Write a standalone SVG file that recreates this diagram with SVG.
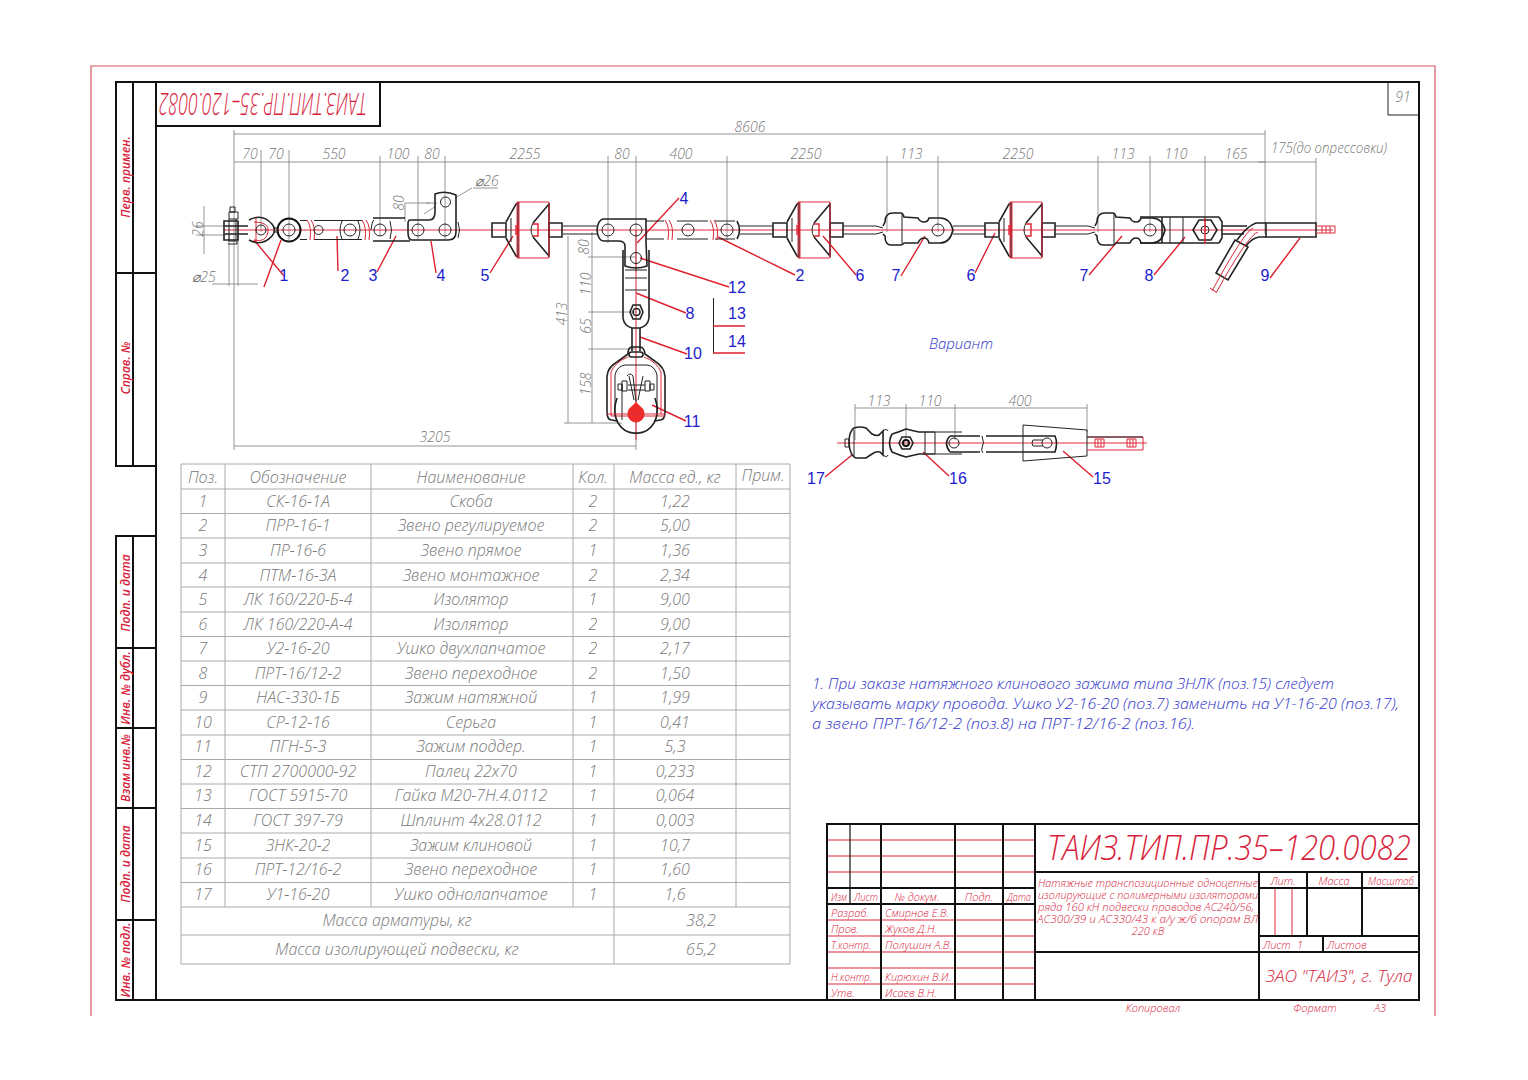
<svg xmlns="http://www.w3.org/2000/svg" xmlns:xlink="http://www.w3.org/1999/xlink" width="1528" height="1080" viewBox="0 0 1528 1080">
<style>
text{font-family:"Open Sans","Liberation Sans",sans-serif;font-style:italic;font-weight:300}
.f{fill:none;stroke:#111;stroke-width:2}
.k{fill:none;stroke:#222;stroke-width:1}
.kb{fill:none;stroke:#222;stroke-width:1.6}
.g{fill:none;stroke:#888;stroke-width:.9}
.tb{fill:none;stroke:#aaa;stroke-width:1}
.r{fill:none;stroke:#dc2a3a;stroke-width:1}
.rb{fill:none;stroke:#e0202f;stroke-width:1.4}
.d{fill:#777;font-size:14px;text-anchor:middle}
.t{fill:#777;font-size:16px;text-anchor:middle}
.n{fill:#1c1ccc;font-family:"Liberation Sans",sans-serif;font-style:normal;font-weight:400;font-size:16px;text-anchor:middle}
.s{fill:#d81e3c;font-size:11px;font-weight:500}
.l{fill:#d81e3c;font-size:12px;font-weight:600;text-anchor:middle}
.sm{text-anchor:middle}
.v{fill:#2f35c8;font-size:15px;font-weight:300}
</style>
<defs>
<g id="ins">
<path class="kb" d="M-25,-7H-11V7H-25ZM32,-7H45V7H32Z"/>
<path class="kb" d="M-11,-8L-1,-26L1,-27V27L-1,26L-11,8M16,-7L32,-26M16,7L32,26M32,-27V27"/>
<path class="k" d="M-6,-12V12M16,-7Q12,0 16,7"/>
<path class="r" d="M0,-28H32V28H0ZM2,-28V28"/>
<path class="rb" stroke-width="2" d="M1,-7V7M-1,-5V5M16,-6H21V6H16"/>
</g>
<g id="eye7">
<path class="kb" d="M-55,-4L-53,-8Q-53,-17 -45,-17H-37Q-35,-17 -34,-13L-20,-12Q-18,-8 -14,-8Q-10,-8 -9,-12H2Q12,-12 15,0Q12,13 2,13H-9Q-10,8 -14,8Q-18,8 -20,13H-34Q-35,15 -37,15H-47Q-53,15 -53,6L-55,4"/>
<path class="k" d="M-36,-16V14"/>
<circle class="k" cx="0" cy="0" r="6"/>
</g>
<g id="brk"><path class="r" d="M0,-10Q5,-3 3,10M4,-10Q9,-3 7,10"/></g>
</defs>

<g id="frame">
<path fill="none" stroke="#d8555f" stroke-width="1.2" d="M91,1016V66H1435V1016"/>
<path class="f" d="M156,82H1419V1000H116V536H156M116,82H156V466H116ZM133,82V466M116,273H156M133,536V1000M116,648H156M116,728H156M116,808H156M116,920H156M156,466V536M156,536V1000"/>
<path class="f" d="M156,126H380V82"/>
<path class="k" d="M1388,82V115H1419"/>
<text class="d" x="1403" y="102" fill="#777">91</text>
<text transform="rotate(180 263 104)" x="263" y="115" text-anchor="middle" style="font-size:31px;fill:#d81e3c" textLength="208" lengthAdjust="spacingAndGlyphs">ТАИЗ.ТИП.ПР.35–120.0082</text>
<g>
<text class="l" transform="rotate(-90 130 177)" x="130" y="177">Перв. примен.</text>
<text class="l" transform="rotate(-90 130 368)" x="130" y="368">Справ. №</text>
<text class="l" transform="rotate(-90 130 593)" x="130" y="593">Подп. и дата</text>
<text class="l" transform="rotate(-90 130 688)" x="130" y="688">Инв. № дубл.</text>
<text class="l" transform="rotate(-90 130 768)" x="130" y="768">Взам инв.№</text>
<text class="l" transform="rotate(-90 130 864)" x="130" y="864">Подп. и дата</text>
<text class="l" transform="rotate(-90 130 960)" x="130" y="960">Инв. № подл.</text>
</g>
</g>

<g id="connectors">
<path class="g" d="M234,130V450M234,134H1265M1265,130V234M234,162H1265M1258,162H1316M261,150V232M289,150V240M380,156V236M418,156V240M445,156V240M608,156V243M636,156V272M727,156V240M887,156V232M938,156V232M1098,156V232M1150,156V232M1205,156V232M1316,158V225"/>
<path class="g" d="M568,236V423M592,232V423M588,257H636M588,312H636M588,349H636M564,423H622M234,446H636M636,420V450"/>
<path class="g" d="M204,206V254M196,226H226M196,235H226M229,235V286M238,235V286M212,284H258M426,203H437M405,203V222M405,203H430M424,214L436,206M455,198L472,188M473,188H498"/>
<path class="g" d="M855,408H1087M855,404V440M906,404V440M955,404V440M1087,404V432"/>
<g class="rb">
<path d="M284,276L254,240M264,287L281,240M338,271L337,236M377,272L396,236M436,273L431,241M490,273L513,236M679,198L637,243M795,275L718,237M856,275L823,236M901,276L925,236M975,273L995,233M1089,275L1122,236M1154,275L1185,237M1270,278L1300,238M729,287L640,258M686,313L636,293M687,354L640,337M686,421L652,405M825,477L852,455M949,476L923,452M1093,477L1063,451"/>
</g>
<path class="r" d="M224,230H1333M636,230V440M837,443H1147"/>
<path stroke="#222" fill="none" d="M713.500,298V353"/>
<path class="rb" d="M713,326H745M713,353H745"/>
</g>

<g id="dim-labels">
<text class="d" x="250" y="159">70</text><text class="d" x="276" y="159">70</text><text class="d" x="334" y="159">550</text><text class="d" x="398" y="159">100</text><text class="d" x="432" y="159">80</text><text class="d" x="525" y="159">2255</text><text class="d" x="622" y="159">80</text><text class="d" x="681" y="159">400</text><text class="d" x="806" y="159">2250</text><text class="d" x="911" y="159">113</text><text class="d" x="1018" y="159">2250</text><text class="d" x="1123" y="159">113</text><text class="d" x="1176" y="159">110</text><text class="d" x="1236" y="159">165</text>
<text class="d" x="750" y="132">8606</text>
<text class="d" x="1329" y="153" textLength="116" lengthAdjust="spacingAndGlyphs">175(до опрессовки)</text>
<text class="d" x="487" y="186">⌀26</text><text class="d" x="204" y="282">⌀25</text>
<text class="d" x="435" y="442">3205</text>
<text class="d" transform="rotate(-90 203 229)" x="203" y="229">26</text>
<text class="d" transform="rotate(-90 404 203)" x="404" y="203">80</text>
<text class="d" transform="rotate(-90 589 247)" x="589" y="247">80</text>
<text class="d" transform="rotate(-90 591 284)" x="591" y="284">110</text>
<text class="d" transform="rotate(-90 591 326)" x="591" y="326">65</text>
<text class="d" transform="rotate(-90 591 384)" x="591" y="384">158</text>
<text class="d" transform="rotate(-90 567 314)" x="567" y="314">413</text>
<text class="d" x="879" y="406">113</text><text class="d" x="930" y="406">110</text><text class="d" x="1020" y="406">400</text>
</g>

<g id="part-1">
<path class="kb" d="M224,221H238V240H224ZM225,226H248M225,234H248"/>
<path class="k" d="M229,219V240M236,219V240M230,207H235V212H230ZM229,212H238V219H229ZM228,241H237V244H228"/>
<path class="kb" d="M249,220Q262,213 272,224Q277,230 272,236Q262,247 249,240"/>
<path class="r" d="M254,222Q270,222 268,232Q266,243 254,240M256,218V242"/>
<circle class="k" cx="261" cy="230" r="5"/>
<circle cx="289" cy="230" r="11.500" fill="none" stroke="#111" stroke-width="2"/><circle class="k" cx="289" cy="230" r="6"/>
<path class="k" d="M273,228H278M273,232H278"/>
</g>
<g id="part-2a">
<path class="k" d="M300,220.500H307M300,239.500H307M314,220.500H362M314,239.500H362"/>
<use xlink:href="#brk" href="#brk" x="307" y="230"/><use xlink:href="#brk" href="#brk" x="362" y="230"/>
<circle class="k" cx="318.500" cy="230" r="4.500"/><circle class="k" cx="350" cy="230" r="6"/>
<path class="k" d="M342,221Q338,230 342,239M358,221Q362,230 358,239"/>
</g>
<g id="part-3">
<path class="kb" d="M373,218H405M373,241H410"/>
<path class="k" d="M371,230Q372,221 374,220M390,221Q393,230 390,239"/>
<circle class="k" cx="380" cy="230" r="6"/>
</g>
<g id="part-4a">
<path class="kb" d="M410,220H429Q435,220 435,212V194Q445,190 456,195V232Q456,240 448,240H412Q408,240 408,232V224Q408,220 410,220Z"/>
<circle class="k" cx="418" cy="230" r="6"/><circle class="k" cx="445" cy="230" r="6"/><circle class="k" cx="445.500" cy="202" r="5"/>
<path class="k" d="M458,222Q461,230 458,238"/>
</g>
<g id="part-5"><use xlink:href="#ins" href="#ins" x="517" y="230"/><path class="k" d="M563,226H597M563,234H597"/></g>
<g id="part-4b">
<path class="kb" d="M603,219H646V242L647,266Q636,270 625,266V246Q625,241 618,241H604Q598,241 597,230Q598,220 603,219Z"/>
<circle class="k" cx="608" cy="230" r="6"/><circle class="k" cx="636" cy="230" r="6"/>
<circle class="k" cx="636" cy="258" r="5.500"/>
</g>
<g id="part-2b">
<path class="k" d="M646,221H664M646,239H664M677,221H708M677,239H708M715,221H735M715,239H735"/>
<use xlink:href="#brk" href="#brk" x="665" y="230"/><use xlink:href="#brk" href="#brk" x="710" y="230"/>
<circle class="k" cx="688" cy="230" r="6"/><circle class="k" cx="727" cy="230" r="6"/>
<path class="kb" d="M737,221Q742,230 737,239"/><path class="k" d="M740,226H773M740,234H773"/>
</g>
<g id="part-6a"><use xlink:href="#ins" href="#ins" x="798" y="230"/><path class="k" d="M843,226H876L883,228M843,234H876L883,232"/></g>
<g id="part-7a"><use xlink:href="#eye7" href="#eye7" x="938" y="230"/><path class="k" d="M953,226H985M953,234H985"/></g>
<g id="part-6b"><use xlink:href="#ins" href="#ins" x="1010" y="230"/><path class="k" d="M1055,226H1088L1095,228M1055,234H1088L1095,232"/></g>
<g id="part-7b"><use xlink:href="#eye7" href="#eye7" x="1150" y="230"/></g>
<g id="part-8a">
<path class="kb" d="M1140,217H1219M1140,243H1219M1219,217L1222,222V238L1219,243M1162,217V243"/>
<path class="k" d="M1170,217V243M1183,217V243"/>
<path class="kb" d="M1193,230L1199,220H1211L1217,230L1211,240H1199Z"/><circle class="k" cx="1205" cy="230" r="4"/>
<path class="rb" d="M1205,218V244"/>
</g>
<g id="part-9">
<path class="kb" d="M1266,223H1316V237H1266ZM1222,226H1247M1222,234H1244"/>
<path class="kb" d="M1266,223H1256Q1247,226 1237,240M1266,237H1259Q1252,238 1246,246"/>
<path class="kb" d="M1235,240L1248,247L1228,280L1216,273Z"/>
<path class="r" d="M1316,226H1335V233H1316M1322,226V233M1326,226V233M1330,226V233M1253,228Q1244,232 1212,291M1258,232Q1248,235 1216,293M1210,288L1216,292"/>
</g>
<g id="part-8b">
<path class="kb" d="M623,250V318Q624,326 632,328H640Q648,326 649,318V250"/>
<path class="k" d="M625,270H647M625,278H647M625,290H647"/>
<path class="kb" d="M630,312L633,305H640L643,312L640,319H633Z"/><circle class="kb" cx="636.500" cy="312" r="3.500"/>
</g>
<g id="part-10"><path class="kb" d="M632,328V351M640,328V351"/><rect x="629" y="352" width="14" height="5" rx="2.500" class="kb"/></g>
<g id="part-11">
<path class="kb" d="M628,354Q628,347 632,347H640Q644,347 645,354L656,362Q664,367 665,376V412Q665,420 660,420L655,421M628,354L617,362Q608,367 607,376V412Q607,420 612,420L617,421"/>
<path class="r" d="M628,357Q615,362 611,372V416H665M644,357Q657,362 661,372V414"/>
<path class="k" d="M615,416V375Q617,366 625,365H647Q655,366 657,375V416"/>
<path class="kb" d="M617,398Q612,412 618,423Q625,434 636,433Q647,434 654,423Q660,412 655,398"/>
<path class="k" d="M622,384V420M629,376L634,400M643,376L638,400M627,376Q630,372 633,376L636,402M622,381H627V391H622ZM618,384H622V390H618ZM645,381H650V391H645ZM650,384H654V390H650ZM628,385H645M628,390H645"/>
<circle cx="636" cy="414" r="8.500" fill="#ee2a2a"/>
<path d="M628,410L636,402L644,410Z" fill="#ee2a2a"/>
<path class="r" d="M607,414H665"/>
</g>
<g id="part-variant">
<path class="kb" d="M849,443Q849,431 854,428Q860,426 866,428L872,434Q878,437 880,434L883,431V455L880,452Q876,451 872,454L866,458H856Q850,456 849,443Z"/>
<path class="k" d="M845,439H849V447H845ZM854,430V456"/>
<path class="k" d="M883,431Q887,428 888,431M883,455Q887,458 888,455"/>
<path class="kb" d="M892,434Q899,432 906,429Q914,431 919,432H935M892,452Q899,455 906,457Q914,455 919,454H935M892,434Q887,443 892,452"/>
<path class="kb" d="M899,443L902,437H910L913,443L910,449H902Z"/><circle cx="906" cy="443" r="3" fill="none" stroke="#111" stroke-width="2"/>
<path class="k" d="M925,432V454M935,432V454M935,432H962M935,454H962"/>
<path class="kb" d="M950,436H980M950,452H980M950,436Q943,443 950,452M1002,436H1055Q1058,443 1055,452H986M986,436H1002"/>
<circle class="k" cx="954" cy="443" r="5"/>
<path class="k" d="M982,436Q985,443 982,448Q981,451 983,453"/>
<circle class="k" cx="1047" cy="443" r="5"/><path class="k" d="M1043,440H1033Q1031,443 1033,446H1043"/>
<path class="k" d="M1023,425L1087,430V456L1023,461Z"/>
<path class="r" d="M1087,437H1143V450H1087M1095,439H1104V447H1095ZM1127,439H1136V447H1127ZM1098,439V447M1101,439V447M1130,439V447M1133,439V447"/>
<path class="k" d="M1087,437H1143"/>
</g>

<g id="numbers">
<text class="n" x="284" y="281">1</text><text class="n" x="345" y="281">2</text><text class="n" x="373" y="281">3</text><text class="n" x="441" y="281">4</text><text class="n" x="485" y="281">5</text><text class="n" x="684" y="204">4</text><text class="n" x="800" y="281">2</text><text class="n" x="860" y="281">6</text><text class="n" x="896" y="281">7</text><text class="n" x="971" y="281">6</text><text class="n" x="1084" y="281">7</text><text class="n" x="1149" y="281">8</text><text class="n" x="1265" y="281">9</text><text class="n" x="737" y="293">12</text><text class="n" x="690" y="319">8</text><text class="n" x="737" y="319">13</text><text class="n" x="737" y="347">14</text><text class="n" x="693" y="359">10</text><text class="n" x="692" y="427">11</text><text class="n" x="816" y="484">17</text><text class="n" x="958" y="484">16</text><text class="n" x="1102" y="484">15</text>
<text class="v" x="961" y="349" text-anchor="middle">Вариант</text>
</g>

<g id="note">
<text class="v" x="812" y="689" textLength="522" lengthAdjust="spacingAndGlyphs">1. При заказе натяжного клинового зажима типа ЗНЛК (поз.15) следует</text>
<text class="v" x="812" y="709" textLength="587" lengthAdjust="spacingAndGlyphs">указывать марку провода. Ушко У2-16-20 (поз.7) заменить на У1-16-20 (поз.17),</text>
<text class="v" x="812" y="729" textLength="383" lengthAdjust="spacingAndGlyphs">а звено ПРТ-16/12-2 (поз.8) на ПРТ-12/16-2 (поз.16).</text>
</g>

<g id="table">
<path class="tb" d="M181,464H790V964H181ZM225,464V907M371,464V907M573,464V907M614,464V964M736,464V907"/>
<path class="tb" d="M181,489H790M181,513.500H790M181,538H790M181,563H790M181,587H790M181,612H790M181,636.500H790M181,661H790M181,685.500H790M181,710H790M181,735H790M181,759.500H790M181,784H790M181,808.500H790M181,833H790M181,858H790M181,882.500H790M181,907H790M181,935H790"/>
<g class="t">
<text x="203" y="483">Поз.</text><text x="298" y="483">Обозначение</text><text x="471" y="483">Наименование</text><text x="593" y="483">Кол.</text><text x="675" y="483">Масса ед., кг</text><text x="763" y="481">Прим.</text>
<text x="203" y="507">1</text><text x="298" y="507">СК-16-1А</text><text x="471" y="507">Скоба</text><text x="593" y="507">2</text><text x="675" y="507">1,22</text>
<text x="203" y="531">2</text><text x="298" y="531">ПРР-16-1</text><text x="471" y="531">Звено регулируемое</text><text x="593" y="531">2</text><text x="675" y="531">5,00</text>
<text x="203" y="556">3</text><text x="298" y="556">ПР-16-6</text><text x="471" y="556">Звено прямое</text><text x="593" y="556">1</text><text x="675" y="556">1,36</text>
<text x="203" y="581">4</text><text x="298" y="581">ПТМ-16-3А</text><text x="471" y="581">Звено монтажное</text><text x="593" y="581">2</text><text x="675" y="581">2,34</text>
<text x="203" y="605">5</text><text x="298" y="605">ЛК 160/220-Б-4</text><text x="471" y="605">Изолятор</text><text x="593" y="605">1</text><text x="675" y="605">9,00</text>
<text x="203" y="630">6</text><text x="298" y="630">ЛК 160/220-А-4</text><text x="471" y="630">Изолятор</text><text x="593" y="630">2</text><text x="675" y="630">9,00</text>
<text x="203" y="654">7</text><text x="298" y="654">У2-16-20</text><text x="471" y="654">Ушко двухлапчатое</text><text x="593" y="654">2</text><text x="675" y="654">2,17</text>
<text x="203" y="679">8</text><text x="298" y="679">ПРТ-16/12-2</text><text x="471" y="679">Звено переходное</text><text x="593" y="679">2</text><text x="675" y="679">1,50</text>
<text x="203" y="703">9</text><text x="298" y="703">НАС-330-1Б</text><text x="471" y="703">Зажим натяжной</text><text x="593" y="703">1</text><text x="675" y="703">1,99</text>
<text x="203" y="728">10</text><text x="298" y="728">СР-12-16</text><text x="471" y="728">Серьга</text><text x="593" y="728">1</text><text x="675" y="728">0,41</text>
<text x="203" y="752">11</text><text x="298" y="752">ПГН-5-3</text><text x="471" y="752">Зажим поддер.</text><text x="593" y="752">1</text><text x="675" y="752">5,3</text>
<text x="203" y="777">12</text><text x="298" y="777">СТП 2700000-92</text><text x="471" y="777">Палец 22х70</text><text x="593" y="777">1</text><text x="675" y="777">0,233</text>
<text x="203" y="801">13</text><text x="298" y="801">ГОСТ 5915-70</text><text x="471" y="801">Гайка М20-7Н.4.0112</text><text x="593" y="801">1</text><text x="675" y="801">0,064</text>
<text x="203" y="826">14</text><text x="298" y="826">ГОСТ 397-79</text><text x="471" y="826">Шплинт 4х28.0112</text><text x="593" y="826">1</text><text x="675" y="826">0,003</text>
<text x="203" y="851">15</text><text x="298" y="851">ЗНК-20-2</text><text x="471" y="851">Зажим клиновой</text><text x="593" y="851">1</text><text x="675" y="851">10,7</text>
<text x="203" y="875">16</text><text x="298" y="875">ПРТ-12/16-2</text><text x="471" y="875">Звено переходное</text><text x="593" y="875">1</text><text x="675" y="875">1,60</text>
<text x="203" y="900">17</text><text x="298" y="900">У1-16-20</text><text x="471" y="900">Ушко однолапчатое</text><text x="593" y="900">1</text><text x="675" y="900">1,6</text>
<text x="397" y="926">Масса арматуры, кг</text><text x="701" y="926">38,2</text>
<text x="397" y="955">Масса изолирующей подвески, кг</text><text x="701" y="955">65,2</text>
</g>
</g>

<g id="title-block">
<path class="r" d="M827,840H1035M827,856H1035M827,872H1035M827,920H1035M827,936H1035M827,952H1035M827,968H1035M827,984H1035M1275,888V936M1292,888V936"/>
<path class="f" d="M827,1000V824H1419M827,888H1035M827,904H1035M881,824V1000M955,824V1000M1003,824V1000M1035,824V1000M1035,872H1419M1035,952H1419M1259,872V1000M1307,872V936M1362,872V936M1259,888H1419M1259,936H1419M1323,936V952"/>
<path fill="none" stroke="#111" stroke-width="1.200" d="M850,824V904"/>
<text x="1047" y="860" style="font-size:35px;fill:#d81e3c" textLength="364" lengthAdjust="spacingAndGlyphs">ТАИЗ.ТИП.ПР.35–120.0082</text>
<g class="s">
<text x="831" y="901" textLength="16" lengthAdjust="spacingAndGlyphs">Изм</text><text x="854" y="901" textLength="24" lengthAdjust="spacingAndGlyphs">Лист</text><text class="sm" x="917" y="901">№ докум.</text><text class="sm" x="979" y="901">Подп.</text><text class="sm" x="1019" y="901" textLength="24" lengthAdjust="spacingAndGlyphs">Дата</text>
<text x="831" y="917">Разраб.</text><text x="831" y="933">Пров.</text><text x="831" y="949" textLength="40" lengthAdjust="spacingAndGlyphs">Т.контр.</text><text x="831" y="981" textLength="41" lengthAdjust="spacingAndGlyphs">Н.контр.</text><text x="831" y="997">Утв.</text>
<text x="885" y="917" textLength="64" lengthAdjust="spacingAndGlyphs">Смирнов Е.В.</text><text x="885" y="933">Жуков Д.Н.</text><text x="885" y="949" textLength="67" lengthAdjust="spacingAndGlyphs">Полушин А.В.</text><text x="885" y="981" textLength="66" lengthAdjust="spacingAndGlyphs">Кирюхин В.И.</text><text x="885" y="997">Исаев В.Н.</text>
<text x="1038" y="887" textLength="220" lengthAdjust="spacingAndGlyphs">Натяжные транспозиционные одноцепные</text>
<text x="1038" y="899" textLength="220" lengthAdjust="spacingAndGlyphs">изолирующие с полимерными изоляторами</text>
<text x="1038" y="911" textLength="216" lengthAdjust="spacingAndGlyphs">ряда 160 кН подвески проводов АС240/56,</text>
<text x="1037" y="923" textLength="221" lengthAdjust="spacingAndGlyphs">АС300/39 и АС330/43 к а/у ж/б опорам ВЛ</text>
<text class="sm" x="1148" y="935">220 кВ</text>
<text class="sm" x="1283" y="885">Лит.</text><text class="sm" x="1334" y="885">Масса</text><text class="sm" x="1391" y="885" textLength="46" lengthAdjust="spacingAndGlyphs">Масштаб</text>
<text x="1263" y="949">Лист</text><text x="1297" y="949">1</text><text x="1327" y="949">Листов</text>
<text class="sm" x="1153" y="1012">Копировал</text><text class="sm" x="1315" y="1012">Формат</text><text class="sm" x="1380" y="1012">А3</text>
</g>
<text x="1339" y="982" text-anchor="middle" style="font-size:17px;fill:#d81e3c" textLength="147" lengthAdjust="spacingAndGlyphs">ЗАО "ТАИЗ", г. Тула</text>
</g>
</svg>
